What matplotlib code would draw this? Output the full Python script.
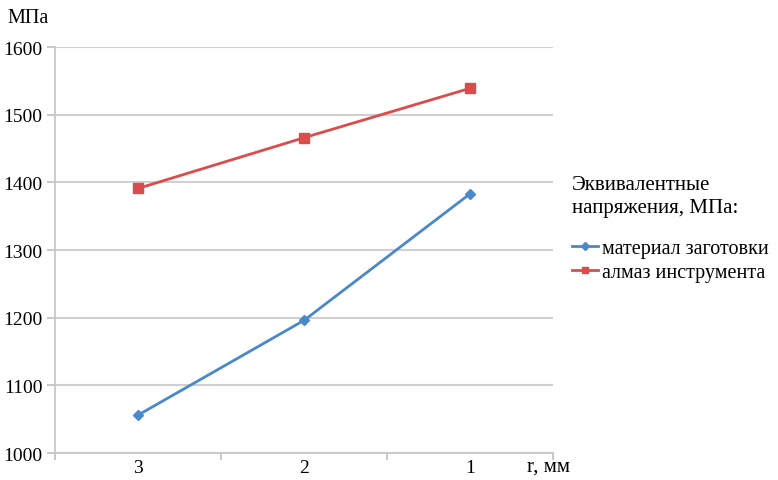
import matplotlib
matplotlib.use("Agg")
import matplotlib.pyplot as plt
from matplotlib.lines import Line2D

categories = ["3", "2", "1"]
material = [1056, 1196, 1383]
diamond = [1391, 1466, 1539]
series_names = ["материал заготовки", "алмаз инструмента"]
legend_title = "Эквивалентные\nнапряжения, МПа:"
y_ticks = [1000, 1100, 1200, 1300, 1400, 1500, 1600]

plt.rcParams['font.family'] = ['Liberation Serif', 'DejaVu Serif']

fig = plt.figure(figsize=(7.78, 4.81), dpi=100)
ax = fig.add_axes([0.0707, 0.0561, 0.640, 0.844])

x = list(range(len(categories)))
blue = '#4A88C9'
red = '#DB4C4C'
ax.plot(x, material, color=blue, lw=2, marker='D', ms=5.5, zorder=3)
ax.plot(x, diamond, color=red, lw=2, marker='s', ms=7, zorder=3)

ax.set_xlim(-0.5, len(categories) - 0.5)
ax.set_ylim(1000, 1600)
ax.set_yticks(y_ticks)
ax.set_yticklabels([str(v) for v in y_ticks], fontsize=14)
ax.set_xticks(x)
ax.set_xticklabels(categories, fontsize=14)
ax.set_xticks([i - 0.5 for i in range(len(categories) + 1)], minor=True)
ax.tick_params(axis='x', which='major', length=0, pad=4)
ax.tick_params(axis='x', which='minor', length=5, color='#BFBFBF', width=1.2)
ax.tick_params(axis='y', length=6, color='#BFBFBF', width=1.2, pad=3)

ax.grid(axis='y', color='#D0D0D0', lw=1.5)
ax.set_axisbelow(True)
for s in ['top', 'right']:
    ax.spines[s].set_visible(False)
for s in ['left', 'bottom']:
    ax.spines[s].set_color('#C8C8C8')
    ax.spines[s].set_linewidth(1.3)

fig.text(0.010, 0.962, "МПа", fontsize=14.5, va='center', ha='left')
fig.text(0.677, 0.029, "r, мм", fontsize=15, va='center', ha='left')

fig.text(572 / 778, 1 - 197 / 481, legend_title, fontsize=15, va='center',
         ha='left', linespacing=1.3)

handles = [
    Line2D([], [], color=blue, lw=2, marker='D', ms=4),
    Line2D([], [], color=red, lw=2, marker='s', ms=5),
]
leg = fig.legend(handles, series_names, loc='upper left',
                 bbox_to_anchor=(564 / 778, 1 - 232 / 481), frameon=False,
                 fontsize=14.5, handlelength=1.3, handletextpad=0.2,
                 labelspacing=0.25, borderaxespad=0)

fig.savefig("out.png", dpi=100)
